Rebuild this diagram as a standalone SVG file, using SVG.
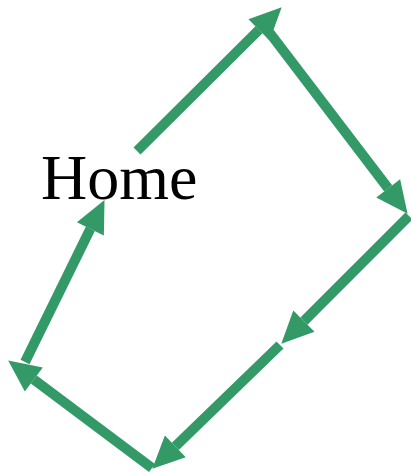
<svg xmlns="http://www.w3.org/2000/svg" width="411" height="473" viewBox="0 0 411 473">
<style>
.c{stroke:#339966;stroke-width:10;fill:none;marker-end:url(#ah)}
.t{font-family:"Liberation Serif","Times New Roman",serif;font-size:64px;fill:#000}
</style>
<defs>
<marker id="ah" markerUnits="userSpaceOnUse" markerWidth="32" markerHeight="30" viewBox="0 0 32 30" refX="0" refY="15" orient="auto" overflow="visible">
<path d="M0,0 L32,15 L0,30 z" fill="#339966"/>
</marker>
</defs>
<g id="connectors">
<line class="c" x1="137" y1="151" x2="259" y2="29.8"/>
<line class="c" x1="266" y1="28" x2="388.2" y2="188.4"/>
<line class="c" x1="409" y1="216" x2="303.9" y2="321.1"/>
<line class="c" x1="280" y1="345" x2="175.3" y2="446.4"/>
<line class="c" x1="152" y1="468" x2="33.8" y2="379.6"/>
<line class="c" x1="25" y1="362" x2="90.4" y2="228.8"/>
</g>
<g id="home">
<text class="t" x="41" y="199">Home</text>
</g>
</svg>
